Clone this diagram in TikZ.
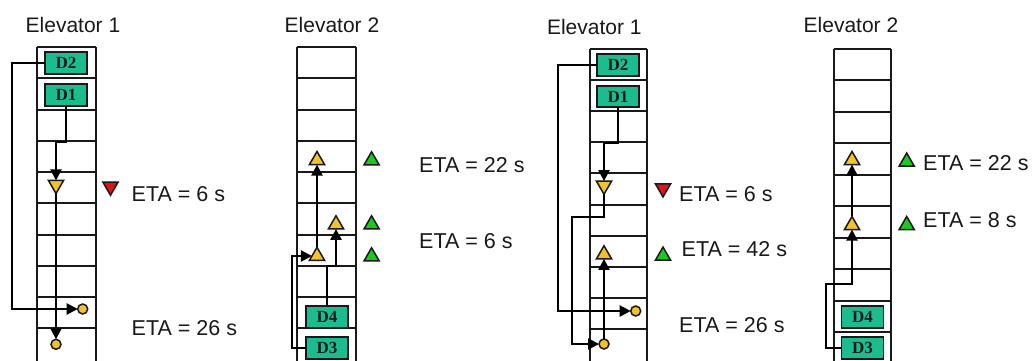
\documentclass[tikz,border=0pt]{standalone}
\usepackage{fontspec}
\setmainfont{Liberation Sans}
\newfontfamily\dfont{Liberation Serif}
\usetikzlibrary{shapes.geometric,arrows.meta}
\definecolor{dteal}{RGB}{28,188,145}
\definecolor{myyellow}{RGB}{243,194,40}
\definecolor{mygreen}{RGB}{30,200,30}
\definecolor{myred}{RGB}{222,20,25}
\definecolor{ink}{RGB}{25,25,25}
\tikzset{
 shaftline/.style={line width=2.4pt, draw=ink},
 conn/.style={line width=2.2pt, draw=black},
 arr/.style={conn, -{Triangle[length=11pt,width=11pt]}},
 dbox/.style={draw=ink, line width=1.8pt, fill=dteal, minimum width=42pt, minimum height=21.5pt, inner sep=0pt, outer sep=0pt, text=ink, font=\dfont\bfseries\fontsize{17}{17}\selectfont},
 ytri/.style={regular polygon, regular polygon sides=3, minimum size=17.5pt, inner sep=0pt, outer sep=0pt, fill=myyellow, draw=ink, line width=1.5pt},
 ydown/.style={ytri, shape border rotate=180},
 gtri/.style={ytri, fill=mygreen},
 rtri/.style={ytri, fill=myred, shape border rotate=180},
 stopc/.style={circle, minimum size=10pt, inner sep=0pt, outer sep=0pt, fill=myyellow, draw=ink, line width=1.5pt},
 titletxt/.style={anchor=west, inner sep=0pt, text=ink, font=\fontsize{21}{21}\selectfont},
 eta/.style={anchor=west, inner sep=0pt, text=ink, font=\fontsize{21.5}{21.5}\selectfont},
}
\newcommand\elevshaft[4]{%
 \foreach \i in {0,...,9} {\pgfmathsetmacro\yy{round(#3+\i*#4)}\draw[shaftline] (#1,\yy) -- (#2,\yy);}
 \draw[shaftline] (#1,#3) -- (#1,361) (#2,#3) -- (#2,361);
}
\begin{document}
\begin{tikzpicture}[x=1pt,y=-1pt]
\fill[white] (0,0) rectangle (1032,360);
\useasboundingbox (0,0) rectangle (1032,360);

% ---------- titles ----------
\node[titletxt] (t1) at (25.5,25) {Elevator 1};
\node[titletxt] (t2) at (284.5,25) {Elevator 2};
\node[titletxt] (t3) at (546.8,26.5) {Elevator 1};
\node[titletxt] (t4) at (803.5,25) {Elevator 2};

% ---------- left: elevator 1 ----------
\elevshaft{37}{96}{47}{31.27}
\node[dbox] (L1D2) at (66,63) {D2};
\node[dbox] (L1D1) at (66,95) {D1};
\node[ydown] (L1Ty) at (56,184.8) {};
\node[stopc] (L1C1) at (82.7,309) {};
\node[stopc] (L1C2) at (56,344.3) {};
\node[rtri] (L1R) at (110.5,186.5) {};
\coordinate (L1a) at (12,63);
\coordinate (L1b) at (66,142);
\draw[arr] (L1D2.west) -- (L1a) |- (L1C1);
\draw[arr] (L1D1.south) -- (L1b) -| (L1Ty);
\draw[arr] (L1Ty) -- (L1C2);
\node[eta] (L1e1) at (131.5,194) {ETA = 6 s};
\node[eta] (L1e2) at (131.5,328.3) {ETA = 26 s};

% ---------- left: elevator 2 ----------
\elevshaft{297}{356}{47}{31.27}
\node[ytri] (L2T1) at (317,160.2) {};
\node[ytri] (L2T2) at (336,224.5) {};
\node[ytri] (L2T3) at (317,256) {};
\node[gtri] (L2G1) at (371.6,160.5) {};
\node[gtri] (L2G2) at (371.6,224.5) {};
\node[gtri] (L2G3) at (371.6,256.5) {};
\node[dbox] (L2D4) at (327,316.7) {D4};
\node[dbox] (L2D3) at (327,348) {D3};
\coordinate (L2a) at (327,266);
\coordinate (L2b) at (292,348);
\draw[arr] (L2D4.north) -- (L2a) -| (L2T2);
\draw[arr] (L2D3.west) -- (L2b) |- (L2T3);
\draw[arr] (L2T3) -- (L2T1);
\node[eta] (L2e1) at (419,165) {ETA = 22 s};
\node[eta] (L2e2) at (419,241) {ETA = 6 s};

% ---------- right: elevator 1 ----------
\elevshaft{590}{647}{49}{31.1}
\node[dbox] (R1D2) at (618,65) {D2};
\node[dbox] (R1D1) at (618,96.5) {D1};
\node[ydown] (R1Ty) at (604,185.5) {};
\node[ytri] (R1Tu) at (604,254.5) {};
\node[stopc] (R1C1) at (635.7,311) {};
\node[stopc] (R1C2) at (604,344) {};
\node[rtri] (R1R) at (663,188.2) {};
\node[gtri] (R1G) at (663,255.8) {};
\coordinate (R1a) at (558,65);
\coordinate (R1b) at (618,143);
\coordinate (R1c) at (604,217);
\coordinate (R1d) at (572,217);
\draw[arr] (R1D2.west) -- (R1a) |- (R1C1);
\draw[arr] (R1D1.south) -- (R1b) -| (R1Ty);
\draw[arr] (R1Ty) -- (R1c) -- (R1d) |- (R1C2);
\draw[arr] (R1C2) -- (R1Tu);
\node[eta] (R1e1) at (679,194) {ETA = 6 s};
\node[eta] (R1e2) at (681.5,249) {ETA = 42 s};
\node[eta] (R1e3) at (679,325) {ETA = 26 s};

% ---------- right: elevator 2 ----------
\elevshaft{834}{891}{49}{31.45}
\node[ytri] (R2T1) at (852,160.2) {};
\node[ytri] (R2T2) at (852,225.2) {};
\node[gtri] (R2G1) at (906.7,161.8) {};
\node[gtri] (R2G2) at (906.7,225.2) {};
\node[dbox] (R2D4) at (862.5,317) {D4};
\node[dbox] (R2D3) at (862.5,348) {D3};
\coordinate (R2a) at (826,348);
\coordinate (R2b) at (826,284);
\draw[arr] (R2D3.west) -- (R2a) -- (R2b) -| (R2T2);
\draw[arr] (R2T2) -- (R2T1);
\node[eta] (R2e1) at (923,163) {ETA = 22 s};
\node[eta] (R2e2) at (923,220) {ETA = 8 s};
\end{tikzpicture}
\end{document}
